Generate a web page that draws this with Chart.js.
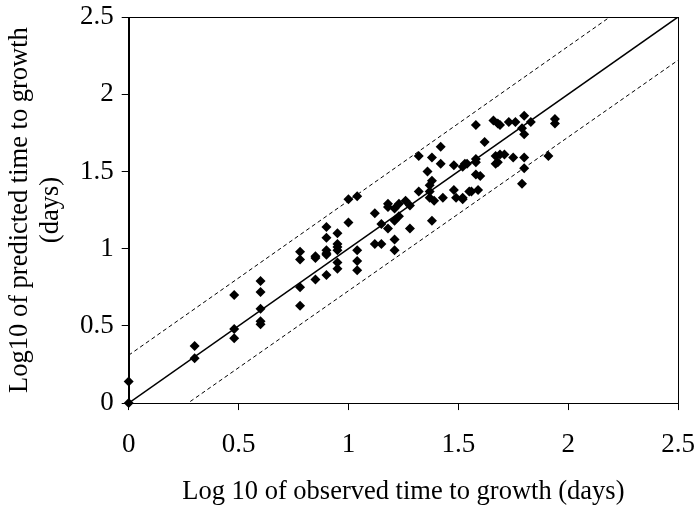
<!DOCTYPE html>
<html>
<head>
<meta charset="utf-8">
<script src="https://cdn.jsdelivr.net/npm/chart.js@4/dist/chart.umd.min.js"></script>
<style>
  html, body { margin: 0; padding: 0; background: #fff; }
  #wrap { width: 698px; height: 505px; }
</style>
</head>
<body>
<div id="wrap"><canvas id="c" width="698" height="505"></canvas></div>
<script>
// observed (x) vs predicted (y), log10 days
const observed = [
  0, 0, 0.30, 0.30, 0.48, 0.48, 0.48,
  0.60, 0.60, 0.60, 0.60, 0.60,
  0.78, 0.78, 0.78, 0.78,
  0.85, 0.85, 0.85,
  0.90, 0.90, 0.90, 0.90, 0.90, 0.90,
  0.95, 0.95, 0.95, 0.95, 0.95, 0.95,
  1.00, 1.04, 1.00, 1.04, 1.04, 1.04,
  1.12, 1.12, 1.15, 1.15, 1.18, 1.18, 1.18,
  1.21, 1.21, 1.21, 1.21, 1.23, 1.23, 1.26, 1.28, 1.28,
  1.32, 1.32, 1.36, 1.37, 1.37, 1.37, 1.39, 1.38, 1.38, 1.38,
  1.42, 1.42, 1.43, 1.48, 1.48, 1.49, 1.52, 1.52, 1.54, 1.55,
  1.53, 1.58, 1.58, 1.58, 1.60, 1.52, 1.56, 1.59,
  1.58, 1.62, 1.66, 1.68, 1.69, 1.67, 1.69, 1.71, 1.67, 1.68,
  1.73, 1.76, 1.75, 1.80, 1.79, 1.83, 1.80, 1.80, 1.80, 1.79,
  1.91, 1.94, 1.94
];
const predicted = [
  0, 0.14, 0.37, 0.29, 0.70, 0.48, 0.42,
  0.79, 0.72, 0.61, 0.53, 0.51,
  0.98, 0.93, 0.75, 0.63,
  0.95, 0.94, 0.80,
  1.14, 1.07, 0.99, 0.97, 0.96, 0.83,
  1.10, 1.03, 1.01, 0.99, 0.91, 0.87,
  1.32, 1.34, 1.17, 0.99, 0.92, 0.86,
  1.23, 1.03, 1.03, 1.16, 1.29, 1.27, 1.13,
  1.26, 1.18, 1.06, 0.99, 1.29, 1.21, 1.31, 1.28, 1.13,
  1.60, 1.37, 1.50, 1.41, 1.37, 1.33, 1.31, 1.59, 1.44, 1.18,
  1.66, 1.55, 1.33, 1.54, 1.38, 1.33, 1.32, 1.53, 1.55, 1.37,
  1.55, 1.58, 1.56, 1.48, 1.47, 1.33, 1.37, 1.38,
  1.80, 1.69, 1.83, 1.81, 1.80, 1.60, 1.61, 1.61, 1.55, 1.56,
  1.82, 1.82, 1.59, 1.86, 1.78, 1.82, 1.74, 1.59, 1.52, 1.42,
  1.60, 1.84, 1.81
];

// reference lines: 1:1 and the upper / lower bounds
const lineX = [0, 2.5];
const lineY = [0, 2.5];
const upperX = [0, 2.19];
const upperY = [0.31, 2.5];
const lowerX = [0.28, 2.5];
const lowerY = [0.01, 2.22];

const axisTicks = [0, 0.5, 1, 1.5, 2, 2.5];
const xTitle = 'Log 10 of observed time to growth (days)';
const yTitle = ['Log10 of predicted time to growth', '(days)'];

const pts = (xs, ys) => xs.map((x, i) => ({ x: x, y: ys[i] }));

// draw the closed frame round the plot area
const frame = {
  id: 'frame',
  afterDraw(chart) {
    const a = chart.chartArea, ctx = chart.ctx;
    ctx.save();
    ctx.strokeStyle = '#000';
    ctx.lineWidth = 1;
    ctx.strokeRect(Math.round(a.left) + 0.5, Math.round(a.top) + 0.5,
      Math.round(a.right - a.left), Math.round(a.bottom - a.top));
    ctx.restore();
  }
};

const serif = 'Liberation Serif, Times New Roman, serif';

new Chart(document.getElementById('c'), {
  type: 'scatter',
  data: {
    datasets: [
      {
        data: pts(observed, predicted),
        pointStyle: 'rectRot',
        pointRadius: 5,
        backgroundColor: '#000',
        borderColor: '#000',
        borderWidth: 0,
        clip: false
      },
      {
        type: 'line', data: pts(lineX, lineY),
        borderColor: '#000', borderWidth: 1.5, pointRadius: 0, fill: false
      },
      {
        type: 'line', data: pts(upperX, upperY),
        borderColor: '#000', borderWidth: 1, borderDash: [4, 3], pointRadius: 0, fill: false
      },
      {
        type: 'line', data: pts(lowerX, lowerY),
        borderColor: '#000', borderWidth: 1, borderDash: [4, 3], pointRadius: 0, fill: false
      }
    ]
  },
  options: {
    responsive: false,
    animation: false,
    layout: { padding: { top: 17, right: 20, left: 0, bottom: 0 } },
    plugins: { legend: { display: false }, tooltip: { enabled: false } },
    scales: {
      x: {
        type: 'linear', min: 0, max: 2.5,
        afterBuildTicks: (ax) => { ax.ticks = axisTicks.map(v => ({ value: v })); },
        afterFit: (ax) => { ax.paddingLeft = 0; ax.paddingRight = 0; },
        ticks: { color: '#000', font: { family: serif, size: 27 }, padding: 19, maxRotation: 0,
                 callback: (v) => String(v) },
        grid: { drawOnChartArea: false, color: '#000', tickLength: 7 },
        border: { color: '#000', width: 1 },
        title: { display: true, text: xTitle, color: '#000',
                 font: { family: serif, size: 26.5, lineHeight: 0.85 }, padding: { top: 0, bottom: 2 } }
      },
      y: {
        type: 'linear', min: 0, max: 2.5,
        afterBuildTicks: (ax) => { ax.ticks = axisTicks.map(v => ({ value: v })); },
        afterFit: (ax) => { ax.paddingTop = 0; ax.paddingBottom = 0; },
        ticks: { color: '#000', font: { family: serif, size: 27 }, padding: 8,
                 callback: (v) => String(v) },
        grid: { drawOnChartArea: false, color: '#000', tickLength: 7 },
        border: { color: '#000', width: 1 },
        title: { display: true, text: yTitle, color: '#000',
                 font: { family: serif, size: 26.5, lineHeight: 1.15 }, padding: { top: 5, bottom: 6 } }
      }
    }
  },
  plugins: [frame]
});
</script>
</body>
</html>
